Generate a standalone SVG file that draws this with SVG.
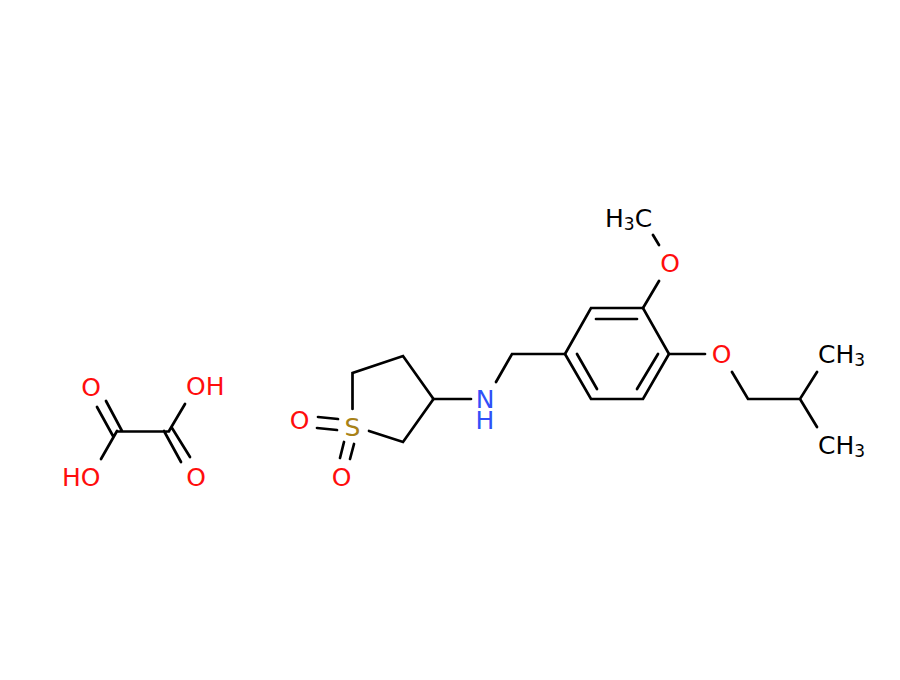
<svg xmlns="http://www.w3.org/2000/svg" width="900" height="680" viewBox="0 0 900 680">
<style>
.b{stroke:#000;stroke-width:2.7;stroke-linecap:round;fill:none}
text{font-family:"DejaVu Sans",sans-serif;font-size:25px}
.o{fill:#ff0d0d}.n{fill:#3050f8}.s{fill:#a88218}.c{fill:#000}
.m{text-anchor:middle}
tspan.u{font-size:17px}
</style>
<rect width="900" height="680" fill="#fff"/>
<g id="connectors" class="b">
<path d="M117 431.500H169M97 407L113 436M106 401L122 431M117 431L101 459M169 431L185 404M164 431L181 462M172 428L190 457"/>
<path d="M352.500 409V373L403 356L433.500 399L403 442L369 431"/>
<path d="M318 417L338 419M317 428L337 430M340 458L344 442M350 459L354 444"/>
<path d="M433 399H471M496 382L512 354H565"/>
<path d="M565 354L591 308H643L669 354L643 399H591L565 354M596 319H637M658 354L637 389M577 354L597 389"/>
<path d="M643 308L659 281M653 235L659 245M669 354H705M732 372L748 399H800L817 372M800 399L817 427"/>
</g>
<g id="o1"><text class="o m" x="91" y="396">O</text></g>
<g id="oh1"><text class="o" x="186" y="395">OH</text></g>
<g id="ho1"><text class="o" x="62" y="486">HO</text></g>
<g id="o2"><text class="o m" x="196" y="486">O</text></g>
<g id="s"><text class="s m" x="352.500" y="436">S</text></g>
<g id="o3"><text class="o m" x="299.500" y="429">O</text></g>
<g id="o4"><text class="o m" x="341.500" y="486">O</text></g>
<g id="nh"><text class="n m" x="485" y="408">N</text><text class="n m" x="485" y="429">H</text></g>
<g id="o5"><text class="o m" x="670" y="272">O</text></g>
<g id="ch3a"><text class="c" x="605" y="227">H<tspan class="u" dy="3">3</tspan><tspan dy="-3">C</tspan></text></g>
<g id="o6"><text class="o m" x="721.500" y="363">O</text></g>
<g id="ch3b"><text class="c" x="818" y="363">CH<tspan class="u" dy="3">3</tspan></text></g>
<g id="ch3c"><text class="c" x="818" y="454">CH<tspan class="u" dy="3">3</tspan></text></g>
</svg>
